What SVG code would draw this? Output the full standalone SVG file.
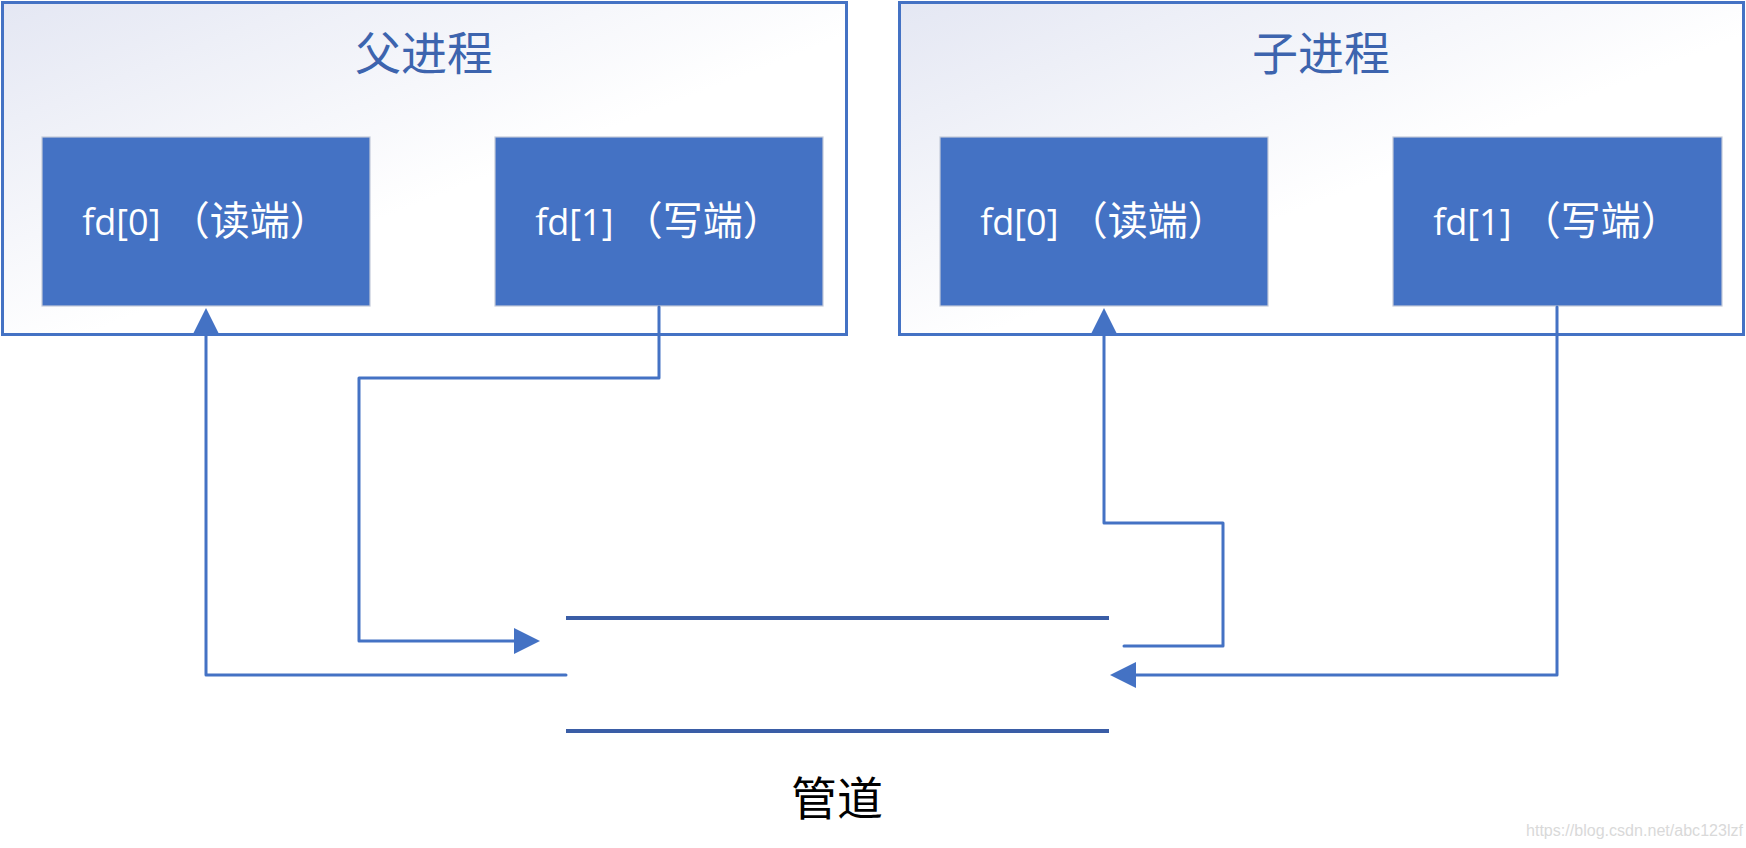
<svg xmlns="http://www.w3.org/2000/svg" width="1746" height="848" viewBox="0 0 1746 848">
  <style>
    .proc { stroke: #4472C4; stroke-width: 3; }
    .title { font-family: "Noto Sans CJK SC", "Noto Sans", sans-serif; font-size: 46px; fill: #3D64AE; text-anchor: middle; }
    .fd rect { fill: #4472C4; stroke: #C3CAD9; stroke-width: 1.2; }
    .fd text { font-family: "Open Sans", "Noto Sans CJK SC", sans-serif; font-size: 36px; fill: #FFFFFF; text-anchor: middle; }
    .fd tspan.cjk { font-family: "Noto Sans CJK SC", sans-serif; font-size: 40px; }
    .conn { fill: none; stroke: #4472C4; stroke-width: 3; stroke-linejoin: round; stroke-linecap: round; }
    .pipe { stroke: #3A5DA6; stroke-width: 4; }
    .label { font-family: "Noto Sans CJK SC", "Noto Sans", sans-serif; font-size: 46px; fill: #000000; text-anchor: middle; }
    .wm { font-family: "Liberation Sans", sans-serif; font-size: 16px; fill: #D9D9D9; }
  </style>
  <defs>
    <linearGradient id="bg" x1="0" y1="0" x2="1" y2="1">
      <stop offset="0" stop-color="#E4E7F3"/>
      <stop offset="0.55" stop-color="#FFFFFF"/>
      <stop offset="1" stop-color="#FFFFFF"/>
    </linearGradient>
    <marker id="arrow" markerUnits="userSpaceOnUse" markerWidth="27" markerHeight="27" refX="0" refY="13" orient="auto" viewBox="0 0 27 26">
      <path d="M0,0 L26,13 L0,26 Z" fill="#4472C4"/>
    </marker>
  </defs>
  <rect width="1746" height="848" fill="#FFFFFF"/>

  <g id="parent">
    <rect class="proc" x="2.5" y="2.5" width="844" height="332" fill="url(#bg)"/>
    <text class="title" x="424" y="70">父进程</text>
  </g>
  <g id="parent-fd0" class="fd">
    <rect x="42" y="137" width="328" height="169"/>
    <text x="206" y="235">fd[0] <tspan class="cjk">（读端）</tspan></text>
  </g>
  <g id="parent-fd1" class="fd">
    <rect x="495" y="137" width="328" height="169"/>
    <text x="659" y="235">fd[1] <tspan class="cjk">（写端）</tspan></text>
  </g>

  <g id="child">
    <rect class="proc" x="899.5" y="2.5" width="844" height="332" fill="url(#bg)"/>
    <text class="title" x="1321" y="70">子进程</text>
  </g>
  <g id="child-fd0" class="fd">
    <rect x="940" y="137" width="328" height="169"/>
    <text x="1104" y="235">fd[0] <tspan class="cjk">（读端）</tspan></text>
  </g>
  <g id="child-fd1" class="fd">
    <rect x="1393" y="137" width="329" height="169"/>
    <text x="1557" y="235">fd[1] <tspan class="cjk">（写端）</tspan></text>
  </g>

  <g id="pipe">
    <line class="pipe" x1="566" y1="618" x2="1109" y2="618"/>
    <line class="pipe" x1="566" y1="731" x2="1109" y2="731"/>
    <text class="label" x="837" y="815">管道</text>
  </g>

  <g id="connectors">
    <path class="conn" d="M566,675 H206 V334" marker-end="url(#arrow)"/>
    <path class="conn" d="M659,307 V378 H359 V641 H514" marker-end="url(#arrow)"/>
    <path class="conn" d="M1124,646 H1223 V523 H1104 V334" marker-end="url(#arrow)"/>
    <path class="conn" d="M1557,307 V675 H1136" marker-end="url(#arrow)"/>
  </g>

  <text class="wm" x="1526" y="836" textLength="217" lengthAdjust="spacingAndGlyphs">https://blog.csdn.net/abc123lzf</text>
</svg>
